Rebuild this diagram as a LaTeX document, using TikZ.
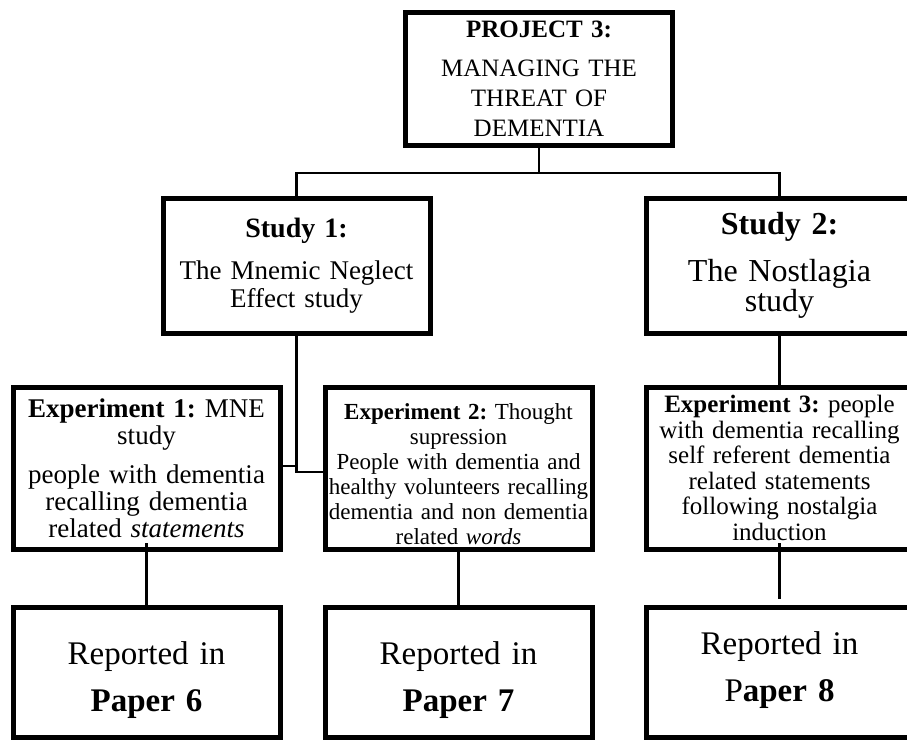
\documentclass[tikz,border=0pt]{standalone}
\usepackage{fontspec}
\setmainfont{Liberation Serif}
\usetikzlibrary{positioning}
\frenchspacing

\begin{document}
\begin{tikzpicture}[
		x=1pt, y=1pt,
		unit/.style={draw, line width=5pt, align=center, inner sep=0pt, outer sep=0pt,
			text width=262pt, minimum width=267pt},
		paper/.style={unit, minimum height=130pt, font=\fontsize{33}{47}\selectfont},
		link/.style={line width=2.2pt}
		]
		
		\useasboundingbox (0,0) rectangle (907,-740);
		\clip (0,0) rectangle (907,-740);
		
		% ==========================================
		% PROJECT
		% ==========================================
		\node[unit, minimum height=132.5pt, font=\fontsize{25}{30}\selectfont] (project) at (539,-78.75) {
			\textbf{PROJECT 3:}\\[9pt]
			MANAGING THE\\
			THREAT OF\\
			DEMENTIA
		};
		
		% ==========================================
		% STUDIES
		% ==========================================
		\node[unit, minimum height=135pt, font=\fontsize{27}{28.5}\selectfont] (study1) at (296.5,-265.5) {
			{\fontsize{28}{28.5}\selectfont\textbf{Study 1:}}\\[13.5pt]
			The Mnemic Neglect\\
			Effect study
		};
		
		\node[unit, minimum height=135pt, font=\fontsize{32}{30}\selectfont, right=216pt of study1] (study2) {
			{\textbf{Study 2:}}\\[17pt]
			The Nostlagia\\
			study
		};
		
		% ==========================================
		% EXPERIMENTS
		% ==========================================
		\node[unit, minimum height=162pt, font=\fontsize{27}{27}\selectfont] (exp1) at (146.5,-468) {
			\textbf{Experiment 1:} MNE\\
			study\\[12pt]
			people with dementia\\
			recalling dementia\\
			related \textit{statements}
		};
		
		\node[unit, minimum height=162pt, font=\fontsize{23}{25}\selectfont, text depth=112pt, right=45pt of exp1] (exp2) {
			\textbf{Experiment 2:} Thought\\
			supression\\
			People with dementia and\\
			healthy volunteers recalling\\
			dementia and non dementia\\
			related \textit{words}
		};
		
		\node[unit, minimum height=162pt, font=\fontsize{25}{25.5}\selectfont, right=54pt of exp2] (exp3) {
			\textbf{Experiment 3:} people\\
			with dementia recalling\\
			self referent dementia\\
			related statements\\
			following nostalgia\\
			induction
		};
		
		% ==========================================
		% PAPERS
		% ==========================================
		\node[paper, text depth=38pt, below=58pt of exp1] (paper6) {
			Reported in\\ \textbf{Paper 6}
		};
		\node[paper, text depth=38pt, below=58pt of exp2] (paper7) {
			Reported in\\ \textbf{Paper 7}
		};
		\node[paper, text depth=58pt, below=58pt of exp3] (paper8) {
			Reported in\\ P\textbf{aper 8}
		};
		
		% ==========================================
		% CONNECTORS
		% ==========================================
		\coordinate (fork) at ([yshift=-28pt]project.south);
		\draw[link] (project.south) -- (fork);
		\draw[link] (study1.north) |- (fork) -| (study2.north);
		
		\draw[link] (study1.south) |- ([yshift=-4pt]exp2.west);
		\draw[link] ([yshift=2pt]exp1.east) -- ([yshift=2pt]exp1.east -| study1.south);
		\draw[link] (study2.south) -- ([yshift=-3pt]exp3.north);
		
		\draw[link] ([yshift=6pt]exp1.south) -- ([yshift=-3pt]paper6.north);
		\draw[link] (exp2.south) -- (paper7.north);
		\draw[link] ([yshift=6pt]exp3.south) -- ([yshift=8pt]paper8.north);
		
	\end{tikzpicture}
\end{document}
